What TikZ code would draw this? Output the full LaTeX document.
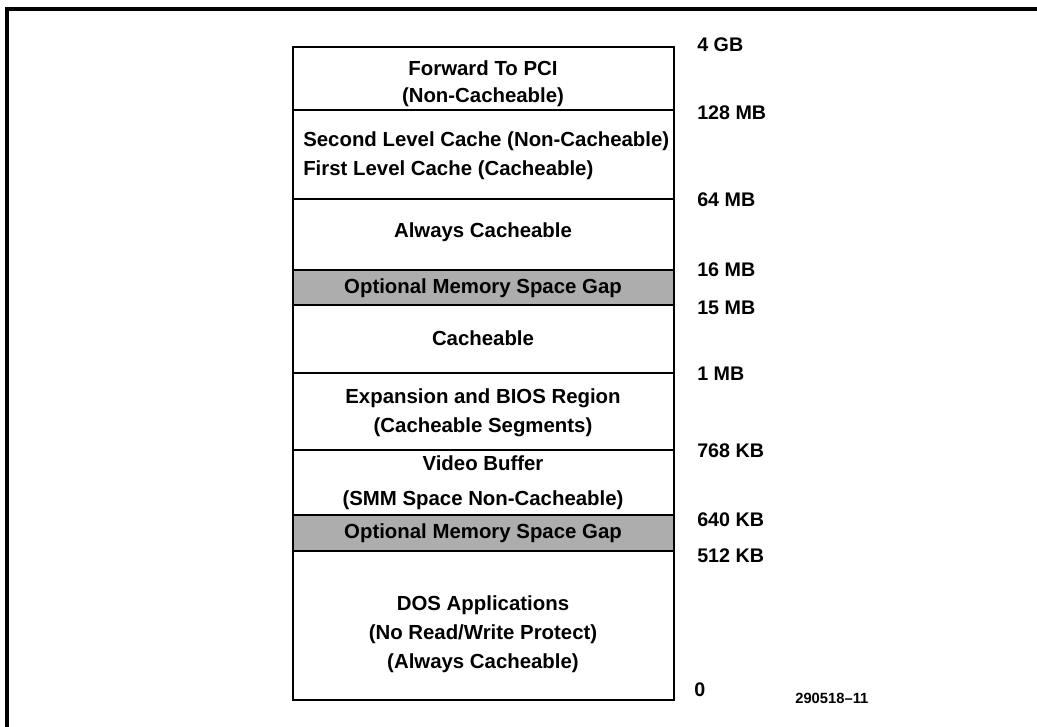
\documentclass[tikz,border=0pt]{standalone}
\usepackage{fontspec}
\setmainfont{Liberation Sans}
\tikzset{
  region/.style={font=\bfseries\fontsize{14.5}{16}\selectfont, inner sep=0pt},
  addr/.style={font=\bfseries\fontsize{14}{16}\selectfont, anchor=west, inner sep=0pt},
  gapfill/.style={fill=black!32},
  bar/.style={line width=1.8pt}
}
\begin{document}
\begin{tikzpicture}[x=0.025cm,y=-0.025cm]
    \useasboundingbox (0,0) rectangle (1037,727);
    % outer frame
    \draw[line width=2.2pt] (1037,9) -- (7,9) -- (7,727);
    % gaps
    \fill[gapfill] (293,270) rectangle (674,305);
    \fill[gapfill] (293,515) rectangle (674,551);
    % memory map
    \draw[bar] (293,47) rectangle (674,700);
    \foreach \y in {110,199,270,305,373,450,515,551}
        \draw[bar] (293,\y) -- (674,\y);
    % regions
    \node[region] (pci) at (483,68) {Forward To PCI};
    \node[region] (pcinc) at (483,97) {(Non-Cacheable)};
    \node[region, anchor=west] (l2) at (303,141) {Second Level Cache (Non-Cacheable)};
    \node[region, anchor=west] (l1) at (303,170) {First Level Cache (Cacheable)};
    \node[region] (always) at (483,232) {Always Cacheable};
    \node[region] (gapa) at (483,288) {Optional Memory Space Gap};
    \node[region] (cache) at (483,338) {Cacheable};
    \node[region] (bios) at (483,398) {Expansion and BIOS Region};
    \node[region] (seg) at (483,427) {(Cacheable Segments)};
    \node[region] (video) at (483,463) {Video Buffer};
    \node[region] (smm) at (483,500) {(SMM Space Non-Cacheable)};
    \node[region] (gapb) at (483,533) {Optional Memory Space Gap};
    \node[region] (dos) at (483,605) {DOS Applications};
    \node[region] (prot) at (483,634) {(No Read/Write Protect)};
    \node[region] (alw) at (483,663) {(Always Cacheable)};
    % addresses
    \node[addr] (a4g) at (697,45) {4 GB};
    \node[addr] (a128) at (697,113) {128 MB};
    \node[addr] (a64) at (697,200) {64 MB};
    \node[addr] (a16) at (697,270) {16 MB};
    \node[addr] (a15) at (697,308) {15 MB};
    \node[addr] (a1) at (697,374) {1 MB};
    \node[addr] (a768) at (697,451) {768 KB};
    \node[addr] (a640) at (697,520) {640 KB};
    \node[addr] (a512) at (697,556) {512 KB};
    \node[addr] (a0) at (694,690) {0};
    \node[addr, font=\bfseries\fontsize{10.5}{12}\selectfont] (fig) at (795,698) {290518--11};
\end{tikzpicture}
\end{document}
